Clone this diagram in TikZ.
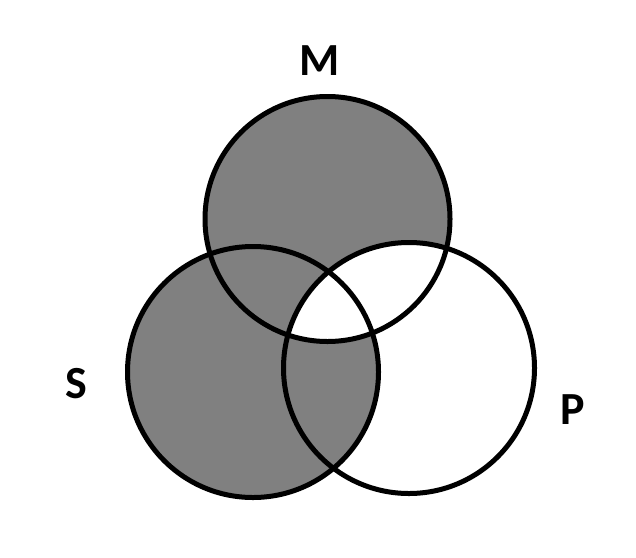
\documentclass[tikz,border=0pt]{standalone}
\usepackage{fontspec}
\setmainfont{Carlito}
\definecolor{venngray}{HTML}{808080}
\begin{document}
\begin{tikzpicture}[x=1pt,y=-1pt,
  lbl/.style={font=\bfseries\fontsize{46}{46}\selectfont, anchor=base, inner sep=0pt, text=black},
  ring/.style={line width=5pt, draw=black},
  area/.style={fill=venngray}]
\useasboundingbox (0,0) rectangle (636,557);
\coordinate (cM) at (327.5,219);
\coordinate (cS) at (253,372);
\coordinate (cP) at (409,368);
\fill[area] (cM) circle[radius=122.5pt];
\fill[area] (cS) circle[radius=125.5pt];
\begin{scope}
  \clip (cM) circle[radius=122.5pt];
  \fill[white] (cP) circle[radius=125.5pt];
\end{scope}
\draw[ring] (cM) circle[radius=122.5pt];
\draw[ring] (cS) circle[radius=125.5pt];
\draw[ring] (cP) circle[radius=125.5pt];
\node[lbl] (M) at (319.5,75) {M};
\node[lbl] (S) at (76,398) {S};
\node[lbl] (P) at (572.5,424) {P};
\end{tikzpicture}
\end{document}
